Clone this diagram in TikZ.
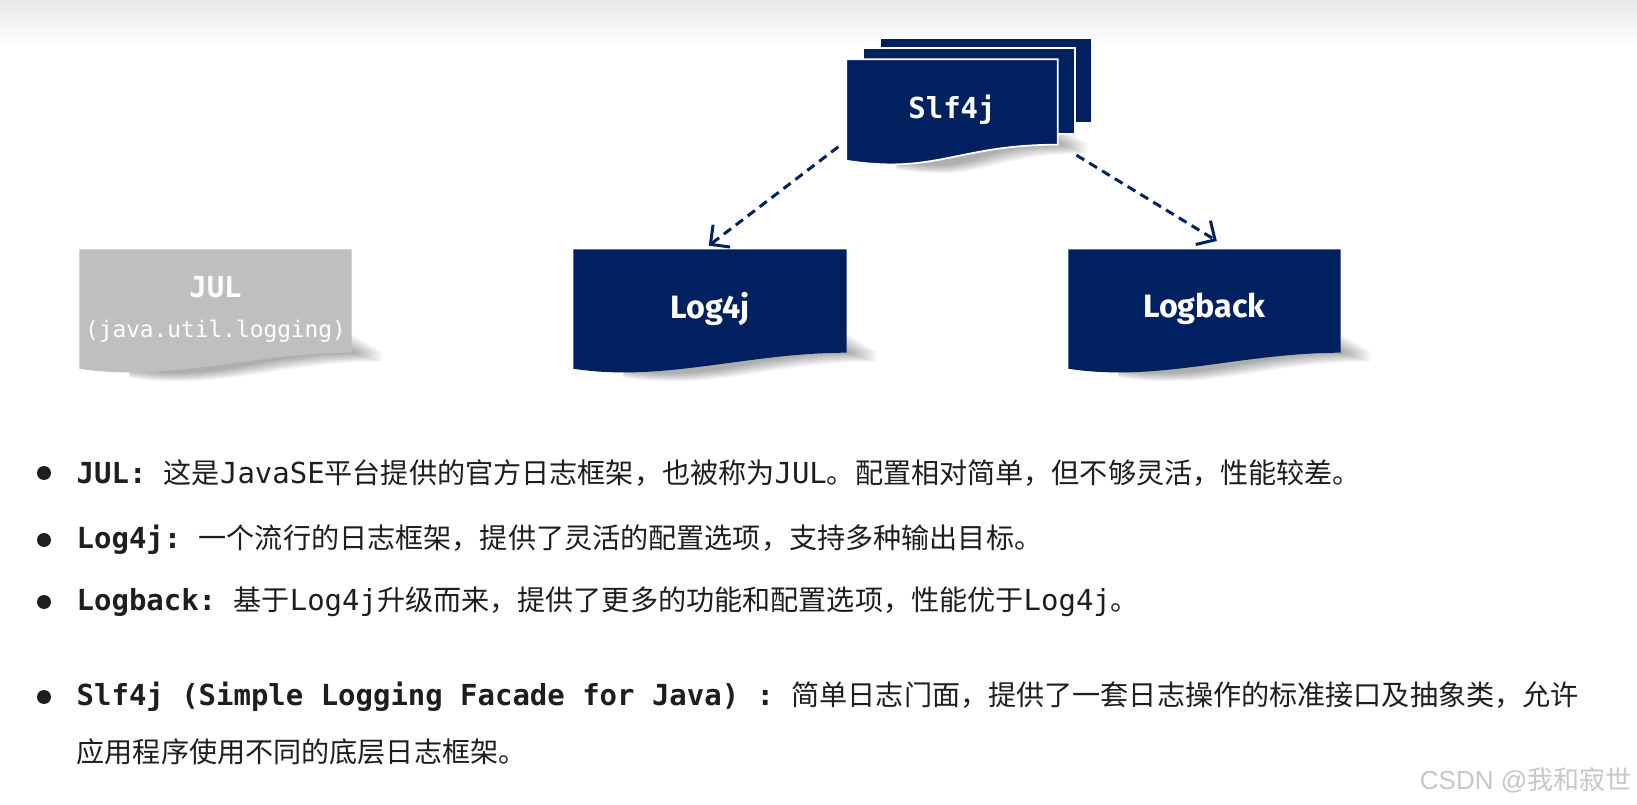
\documentclass[tikz,border=0pt]{standalone}
\usepackage{fontspec}
\setmainfont{Noto Sans CJK SC}
\setmonofont[Scale=1.03]{DejaVu Sans Mono}
\newfontfamily\boxfont{Fira Sans}
\newfontfamily\markfont{Liberation Sans}
\newfontfamily\markcjk{Noto Sans CJK SC}
\definecolor{DocNavy}{RGB}{0,32,96}
\definecolor{DocGray}{RGB}{191,191,191}
\definecolor{InkBlack}{RGB}{30,30,30}
\usetikzlibrary{arrows.meta, backgrounds, calc}

\newcommand{\docshape}[2]{%
  \path[#2] (#1.north west) -- (#1.north east) -- ([yshift=1.6mm]#1.south east)
    .. controls +(-100,0) and +(90,14) .. (#1.south west) -- cycle;}
\newcommand{\docshadow}[1]{%
  \foreach \s in {3,6,...,30}
    \fill[black, opacity=0.035] ([xshift=\s*0.1mm, yshift=1.6mm+(33-\s)*0.06mm]#1.south east)
      -- ([xshift=\s*0.1mm, yshift=1.6mm-\s*0.03mm]#1.south east)
      .. controls +(-100,0) and +(90,14) .. ([xshift=5mm, yshift=-\s*0.03mm]#1.south west)
      -- ([xshift=5mm, yshift=2mm]#1.south west) -- cycle;}

\begin{document}
\begin{tikzpicture}[x=0.1mm, y=-0.1mm,
    doc/.style={rectangle, inner sep=0pt, text=white, align=center},
    boxlabel/.style={font=\fontsize{9.2pt}{11pt}\selectfont\boxfont\bfseries},
    link/.style={-{Straight Barb[length=1.4mm, width=2.8mm]}, DocNavy, line width=0.85pt, dash pattern=on 0.9mm off 0.6mm},
    point/.style={anchor=west, inner sep=0pt, text=InkBlack, font=\fontsize{8pt}{10pt}\selectfont}]

  \useasboundingbox (0,0) rectangle (1637,805);

  \node[doc, minimum width=21mm, minimum height=10mm, font=\fontsize{8pt}{10pt}\selectfont\ttfamily\bfseries] (slf) at (952,110) {Slf4j};
  \node[doc, minimum width=27.2mm, minimum height=11.8mm, boxlabel] (log4j) at (710,309) {Log4j};
  \node[doc, minimum width=27.1mm, minimum height=11.8mm, boxlabel] (logback) at (1204.5,309) {Logback};
  \node[doc, minimum width=27.1mm, minimum height=11.8mm, font=\fontsize{8pt}{11.4pt}\selectfont\ttfamily] (jul) at (215.5,309)
       {{\bfseries JUL}\\{\fontsize{6.3pt}{11.4pt}\selectfont (java.util.logging)}};

  \draw[link, shorten <=1mm, shorten >=0.6mm] ([yshift=2mm]slf.south west) -- ([xshift=-0.6mm]log4j.north);
  \draw[link, shorten <=2.2mm, shorten >=1.6mm] ([yshift=1.7mm]slf.south east) -- ([xshift=2.6mm]logback.north);

  \foreach \y in {473,540,602,697}
    \fill[InkBlack] (44,\y) circle (0.7mm);
  \node[point] (p1) at (76,473) {\texttt{\bfseries JUL: }这是\texttt{JavaSE}平台提供的官方日志框架，也被称为\texttt{JUL}。配置相对简单，但不够灵活，性能较差。};
  \node[point] (p2) at (76,540) {\texttt{\bfseries Log4j: }一个流行的日志框架，提供了灵活的配置选项，支持多种输出目标。};
  \node[point] (p3) at (76,602) {\texttt{\bfseries Logback: }基于\texttt{Log4j}升级而来，提供了更多的功能和配置选项，性能优于\texttt{Log4j}。};
  \node[point] (p4) at (76,697) {\texttt{\bfseries Slf4j (Simple Logging Facade for Java) : }简单日志门面，提供了一套日志操作的标准接口及抽象类，允许};
  \node[point] (p4b) at (76,752) {应用程序使用不同的底层日志框架。};

  \node[anchor=east, inner sep=0pt, text=black!22, font=\fontsize{7.4pt}{10pt}\selectfont] (mark) at (1632,780)
       {\markfont CSDN @\markcjk 我和寂世};

  \begin{scope}[on background layer]
    \fill[white] (0,0) rectangle (1637,805);
    \shade[top color=black!9, bottom color=white] (0,0) rectangle (1637,48);
    \docshadow{jul}
    \docshadow{log4j}
    \docshadow{logback}
    \docshadow{slf}
    \filldraw[fill=DocNavy, draw=white, line width=0.5pt] ([shift={(34,-21)}]slf.north west) rectangle ([shift={(34,-38)}]slf.south east);
    \filldraw[fill=DocNavy, draw=white, line width=0.5pt] ([shift={(17,-11)}]slf.north west) rectangle ([shift={(17,-27)}]slf.south east);
    \docshape{slf}{fill=DocNavy, draw=white, line width=0.5pt}
    \docshape{log4j}{fill=DocNavy}
    \docshape{logback}{fill=DocNavy}
    \docshape{jul}{fill=DocGray}
  \end{scope}
\end{tikzpicture}
\end{document}
